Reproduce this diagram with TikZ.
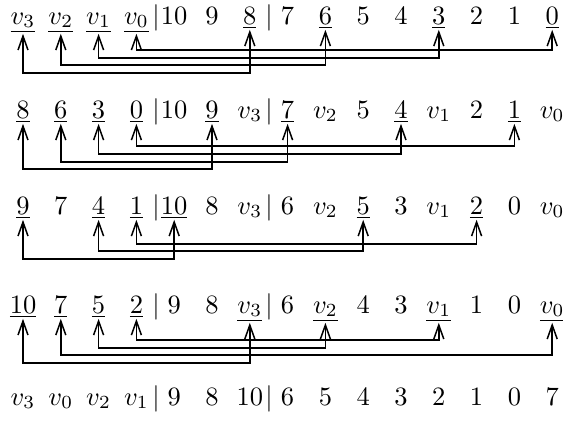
\documentclass[tikz,border=0pt]{standalone}
\usetikzlibrary{arrows.meta}

\begin{document}
\begin{tikzpicture}[
  x=1pt, y=-1pt,
  >={Straight Barb[length=14pt, width=10pt]},
  key/.style={anchor=base, inner sep=0pt, scale=2.65},
  link/.style={<->, line width=1.5pt, line join=miter},
]

\useasboundingbox (0,0) rectangle (563,421);

% Row 1
\foreach \t [count=\c from 0] in {\underline{v_3}, \underline{v_2}, \underline{v_1}, \underline{v_0}, 10, 9, \underline{8}, 7, \underline{6}, 5, 4, \underline{3}, 2, 1, \underline{0}}
  \node[key] (r1c\c) at (23+37.8*\c, 24) {$\t$};
\node[key] (r1bar1) at (156,24) {$|$};
\node[key] (r1bar2) at (269,24) {$|$};

% Links of row 1
\draw[link] (r1c0.south) |- (r1c6 |- 0,73) -- (r1c6.south);
\draw[link] (r1c1.south) |- (r1c8 |- 0,65) -- (r1c8.south);
\draw[link] (r1c2.south) |- (r1c11 |- 0,58) -- (r1c11.south);
\draw[link] (r1c3.south) |- (r1c14 |- 0,50) -- (r1c14.south);

% Row 2
\foreach \t [count=\c from 0] in {\underline{8}, \underline{6}, \underline{3}, \underline{0}, 10, \underline{9}, v_3, \underline{7}, v_2, 5, \underline{4}, v_1, 2, \underline{1}, v_0}
  \node[key] (r2c\c) at (23+37.8*\c, 118) {$\t$};
\node[key] (r2bar1) at (156,118) {$|$};
\node[key] (r2bar2) at (269,118) {$|$};

% Links of row 2
\draw[link] (r2c0.south) |- (r2c5 |- 0,169) -- (r2c5.south);
\draw[link] (r2c1.south) |- (r2c7 |- 0,162) -- (r2c7.south);
\draw[link] (r2c2.south) |- (r2c10 |- 0,154) -- (r2c10.south);
\draw[link] (r2c3.south) |- (r2c13 |- 0,146) -- (r2c13.south);

% Row 3
\foreach \t [count=\c from 0] in {\underline{9}, 7, \underline{4}, \underline{1}, \underline{10}, 8, v_3, 6, v_2, \underline{5}, 3, v_1, \underline{2}, 0, v_0}
  \node[key] (r3c\c) at (23+37.8*\c, 214) {$\t$};
\node[key] (r3bar1) at (156,214) {$|$};
\node[key] (r3bar2) at (269,214) {$|$};

% Links of row 3
\draw[link] (r3c0.south) |- (r3c4 |- 0,259) -- (r3c4.south);
\draw[link] (r3c2.south) |- (r3c9 |- 0,251) -- (r3c9.south);
\draw[link] (r3c3.south) |- (r3c12 |- 0,244) -- (r3c12.south);

% Row 4
\foreach \t [count=\c from 0] in {\underline{10}, \underline{7}, \underline{5}, \underline{2}, 9, 8, \underline{v_3}, 6, \underline{v_2}, 4, 3, \underline{v_1}, 1, 0, \underline{v_0}}
  \node[key] (r4c\c) at (23+37.8*\c, 313) {$\t$};
\node[key] (r4bar1) at (156,313) {$|$};
\node[key] (r4bar2) at (269,313) {$|$};

% Links of row 4
\draw[link] (r4c0.south) |- (r4c6 |- 0,363) -- (r4c6.south);
\draw[link] (r4c1.south) |- (r4c14 |- 0,355) -- (r4c14.south);
\draw[link] (r4c2.south) |- (r4c8 |- 0,348) -- (r4c8.south);
\draw[link] (r4c3.south) |- (r4c11 |- 0,340) -- (r4c11.south);

% Row 5 (result)
\foreach \t [count=\c from 0] in {v_3, v_0, v_2, v_1, 9, 8, 10, 6, 5, 4, 3, 2, 1, 0, 7}
  \node[key] (r5c\c) at (23+37.8*\c, 405) {$\t$};
\node[key] (r5bar1) at (156,405) {$|$};
\node[key] (r5bar2) at (269,405) {$|$};

\end{tikzpicture}
\end{document}
